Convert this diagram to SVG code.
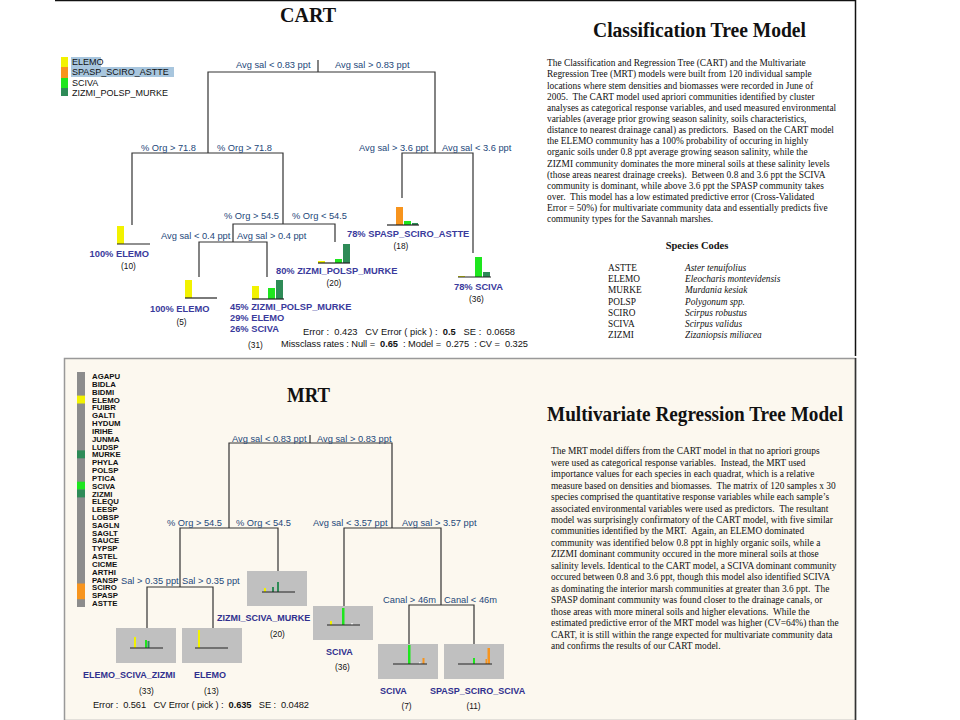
<svg xmlns="http://www.w3.org/2000/svg" width="960" height="720" viewBox="0 0 960 720">
<style>
.split{font-family:"Liberation Sans",Arial,sans-serif;font-size:9.3px;fill:#24487a}
.leaf{font-family:"Liberation Sans",Arial,sans-serif;font-size:9.3px;font-weight:bold;fill:#3a3a9c}
.mleaf{font-family:"Liberation Sans",Arial,sans-serif;font-size:9px;font-weight:bold;fill:#30308e}
.cnt{font-family:"Liberation Sans",Arial,sans-serif;font-size:8.3px;fill:#111;text-anchor:middle}
.stat{font-family:"Liberation Sans",Arial,sans-serif;font-size:9.3px;fill:#111}
.leg{font-family:"Liberation Sans",Arial,sans-serif;font-size:9px;fill:#111}
.mleg{font-family:"Liberation Sans",Arial,sans-serif;font-size:7.8px;font-weight:bold;fill:#111}
.title{font-family:"Liberation Serif","Times New Roman",serif;font-weight:bold;font-size:20px;fill:#111}
.body{font-family:"Liberation Serif","Times New Roman",serif;font-size:9.4px;fill:#111}
.sp{font-family:"Liberation Serif","Times New Roman",serif;font-size:9.3px;fill:#111}
.spi{font-family:"Liberation Serif","Times New Roman",serif;font-size:9.3px;font-style:italic;fill:#111}
.conn{fill:none;stroke:#333;stroke-width:1.2}
.base{stroke:#222;stroke-width:1.2}
.box{fill:#c0c0c0}
.y{fill:#f2f200}.o{fill:#f7941d}.g{fill:#1ee61e}.d{fill:#2e8b57}.gr{fill:#8c8c8c}
</style>
<rect width="960" height="720" fill="#fff"/>
<g id="panels">
<line x1="55" y1="0.5" x2="856" y2="0.5" stroke="#111" stroke-width="1.5"/>
<line x1="855.5" y1="0" x2="855.5" y2="356" stroke="#111" stroke-width="1.5"/>
<rect x="64.5" y="358.5" width="791" height="362" fill="#fcf8ef" stroke="#999" stroke-width="1.5"/>
<line x1="855.5" y1="358" x2="855.5" y2="720" stroke="#333" stroke-width="1.5"/>
</g>

<!-- CART -->
<text class="title" x="280" y="22" textLength="56" lengthAdjust="spacingAndGlyphs">CART</text>
<g id="cart-legend">
<rect x="71" y="57" width="30" height="10" fill="#a8c6de"/>
<rect x="71" y="67" width="103" height="10" fill="#a8c6de"/>
<rect class="y" x="61" y="57" width="7" height="10"/>
<rect class="o" x="61" y="67" width="7" height="11"/>
<rect class="g" x="61" y="78" width="7" height="10"/>
<rect class="d" x="61" y="88" width="7" height="8"/>
<text class="leg" x="72" y="64.5">ELEMO</text>
<text class="leg" x="72" y="75">SPASP_SCIRO_ASTTE</text>
<text class="leg" x="72" y="85.5">SCIVA</text>
<text class="leg" x="72" y="95.5">ZIZMI_POLSP_MURKE</text>
</g>

<g id="cart-connectors">
<path class="conn" d="M318 60V72M208 153V72H435V153M132 225V153H283V224M402 198V153H473V253M233 242V224H335V242M199 277V242H267V277"/>
</g>
<g id="cart-splits">
<text class="split" x="236" y="68">Avg sal &lt; 0.83 ppt</text>
<text class="split" x="335" y="68">Avg sal &gt; 0.83 ppt</text>
<text class="split" x="141" y="151">% Org &gt; 71.8</text>
<text class="split" x="217" y="151">% Org &gt; 71.8</text>
<text class="split" x="359" y="151">Avg sal &gt; 3.6 ppt</text>
<text class="split" x="442" y="151">Avg sal &lt; 3.6 ppt</text>
<text class="split" x="224" y="219">% Org &gt; 54.5</text>
<text class="split" x="292" y="219">% Org &lt; 54.5</text>
<text class="split" x="161" y="239">Avg sal &lt; 0.4 ppt</text>
<text class="split" x="237" y="239">Avg sal &gt; 0.4 ppt</text>
</g>

<g id="cart-leaf-elemo10">
<rect class="y" x="117" y="226" width="7" height="18"/>
<line class="base" x1="117" y1="244" x2="150" y2="244"/>
<text class="leaf" x="149" y="256.5" text-anchor="end">100% ELEMO</text>
<text class="cnt" x="128.5" y="269">(10)</text>
</g>
<g id="cart-leaf-elemo5">
<rect class="y" x="185" y="280" width="7" height="18"/>
<line class="base" x1="185" y1="298" x2="217" y2="298"/>
<text class="leaf" x="150" y="312">100% ELEMO</text>
<text class="cnt" x="181.5" y="325">(5)</text>
</g>
<g id="cart-leaf-31">
<rect class="y" x="252" y="286" width="7" height="13"/>
<rect class="g" x="268" y="288" width="7" height="11"/>
<rect class="d" x="276" y="280" width="7" height="19"/>
<line class="base" x1="252" y1="299" x2="284" y2="299"/>
<text class="leaf" x="230" y="310">45% ZIZMI_POLSP_MURKE</text>
<text class="leaf" x="230" y="321">29% ELEMO</text>
<text class="leaf" x="230" y="332">26% SCIVA</text>
<text class="cnt" x="255.5" y="348">(31)</text>
</g>
<g id="cart-leaf-20">
<rect class="y" x="318" y="261" width="7" height="2"/>
<rect class="g" x="335" y="259" width="7" height="4"/>
<rect class="d" x="343" y="244" width="7" height="19"/>
<line class="base" x1="318" y1="263" x2="350" y2="263"/>
<text class="leaf" x="276" y="274">80% ZIZMI_POLSP_MURKE</text>
<text class="cnt" x="334" y="286">(20)</text>
</g>
<g id="cart-leaf-18">
<rect class="o" x="396" y="207" width="7" height="18"/>
<rect class="g" x="404" y="221" width="7" height="4"/>
<rect class="d" x="412" y="223" width="6" height="2"/>
<line class="base" x1="387" y1="225" x2="419" y2="225"/>
<text class="leaf" x="347" y="237">78% SPASP_SCIRO_ASTTE</text>
<text class="cnt" x="401" y="249">(18)</text>
</g>
<g id="cart-leaf-36">
<rect class="y" x="458" y="276" width="7" height="1"/>
<rect class="g" x="475" y="257" width="7" height="20"/>
<rect class="d" x="483" y="272" width="7" height="5"/>
<line class="base" x1="458" y1="277" x2="491" y2="277"/>
<text class="leaf" x="454" y="290">78% SCIVA</text>
<text class="cnt" x="476.5" y="302">(36)</text>
</g>
<g id="cart-stats">
<text class="stat" x="303" y="334.5" textLength="212" lengthAdjust="spacing" xml:space="preserve">Error :  0.423   CV Error ( pick ) :  <tspan font-weight="bold">0.5</tspan>   SE :  0.0658</text>
<text class="stat" x="281" y="346.5" textLength="247" lengthAdjust="spacing" xml:space="preserve">Missclass rates : Null =  <tspan font-weight="bold">0.65</tspan>  : Model =  0.275  : CV =  0.325</text>
</g>

<!-- CART text panel -->
<text class="title" x="593" y="37" textLength="213" lengthAdjust="spacingAndGlyphs">Classification Tree Model</text>
<g id="cart-body" class="body">
<text x="547" y="66.3">The Classification and Regression Tree (CART) and the Multivariate</text>
<text x="547" y="77.4">Regression Tree (MRT) models were built from 120 individual sample</text>
<text x="547" y="88.6">locations where stem densities and biomasses were recorded in June of</text>
<text x="547" y="99.7" xml:space="preserve">2005.  The CART model used apriori communities identified by cluster</text>
<text x="547" y="110.9">analyses as categorical response variables, and used measured environmental</text>
<text x="547" y="122">variables (average prior growing season salinity, soils characteristics,</text>
<text x="547" y="133.1" xml:space="preserve">distance to nearest drainage canal) as predictors.  Based on the CART model</text>
<text x="547" y="144.3">the ELEMO community has a 100% probability of occuring in highly</text>
<text x="547" y="155.4">organic soils under 0.8 ppt average growing season salinity, while the</text>
<text x="547" y="166.6">ZIZMI community dominates the more mineral soils at these salinity levels</text>
<text x="547" y="177.7" xml:space="preserve">(those areas nearest drainage creeks).  Between 0.8 and 3.6 ppt the SCIVA</text>
<text x="547" y="188.8">community is dominant, while above 3.6 ppt the SPASP community takes</text>
<text x="547" y="200" xml:space="preserve">over.  This model has a low estimated predictive error (Cross-Validated</text>
<text x="547" y="211.1">Error = 50%) for multivariate community data and essentially predicts five</text>
<text x="547" y="222.3">community types for the Savannah marshes.</text>
</g>
<g id="species-codes">
<text x="697" y="248.5" text-anchor="middle" font-family="Liberation Serif, serif" font-weight="bold" font-size="10.5" fill="#111">Species Codes</text>
<text class="sp" x="608" y="271">ASTTE</text><text class="spi" x="685" y="271">Aster tenuifolius</text>
<text class="sp" x="608" y="282.2">ELEMO</text><text class="spi" x="685" y="282.2">Eleocharis montevidensis</text>
<text class="sp" x="608" y="293.4">MURKE</text><text class="spi" x="685" y="293.4">Murdania kesiak</text>
<text class="sp" x="608" y="304.6">POLSP</text><text class="spi" x="685" y="304.6">Polygonum spp.</text>
<text class="sp" x="608" y="315.8">SCIRO</text><text class="spi" x="685" y="315.8">Scirpus robustus</text>
<text class="sp" x="608" y="327">SCIVA</text><text class="spi" x="685" y="327">Scirpus validus</text>
<text class="sp" x="608" y="338.2">ZIZMI</text><text class="spi" x="685" y="338.2">Zizaniopsis miliacea</text>
</g>

<!-- MRT -->
<g id="mrt-legend">
<rect class="gr" x="77" y="372" width="8" height="235"/>
<rect class="y" x="77" y="395.6" width="8" height="7.9"/>
<rect class="d" x="77" y="450.4" width="8" height="7.9"/>
<rect class="g" x="77" y="481.7" width="8" height="7.9"/>
<rect class="d" x="77" y="489.5" width="8" height="7.9"/>
<rect class="o" x="77" y="583.5" width="8" height="15.7"/>
<g class="mleg">
<text x="92" y="379">AGAPU</text>
<text x="92" y="386.8">BIDLA</text>
<text x="92" y="394.7">BIDMI</text>
<text x="92" y="402.5">ELEMO</text>
<text x="92" y="410.3">FUIBR</text>
<text x="92" y="418.2">GALTI</text>
<text x="92" y="426">HYDUM</text>
<text x="92" y="433.8">IRIHE</text>
<text x="92" y="441.6">JUNMA</text>
<text x="92" y="449.5">LUDSP</text>
<text x="92" y="457.3">MURKE</text>
<text x="92" y="465.1">PHYLA</text>
<text x="92" y="473">POLSP</text>
<text x="92" y="480.8">PTICA</text>
<text x="92" y="488.6">SCIVA</text>
<text x="92" y="496.5">ZIZMI</text>
<text x="92" y="504.3">ELEQU</text>
<text x="92" y="512.1">LEESP</text>
<text x="92" y="520">LOBSP</text>
<text x="92" y="527.8">SAGLN</text>
<text x="92" y="535.6">SAGLT</text>
<text x="92" y="543.4">SAUCE</text>
<text x="92" y="551.3">TYPSP</text>
<text x="92" y="559.1">ASTEL</text>
<text x="92" y="566.9">CICME</text>
<text x="92" y="574.8">ARTHI</text>
<text x="92" y="582.6">PANSP</text>
<text x="92" y="590.4">SCIRO</text>
<text x="92" y="598.3">SPASP</text>
<text x="92" y="606.1">ASTTE</text>
</g>
</g>
<text class="title" x="287" y="402" textLength="43" lengthAdjust="spacingAndGlyphs">MRT</text>

<g id="mrt-connectors">
<path class="conn" d="M310 435V443M229 528V443H392V528M180 587V528H278V571M344 606V528H441V605M147 628V587H213V628M409 644V605H474V644"/>
</g>
<g id="mrt-splits">
<text class="split" x="232" y="442">Avg sal &lt; 0.83 ppt</text>
<text class="split" x="317" y="442">Avg sal &gt; 0.83 ppt</text>
<text class="split" x="167" y="526">% Org &gt; 54.5</text>
<text class="split" x="236" y="526">% Org &lt; 54.5</text>
<text class="split" x="313" y="526">Avg sal &lt; 3.57 ppt</text>
<text class="split" x="402" y="526">Avg sal &gt; 3.57 ppt</text>
<text class="split" x="121" y="584">Sal &gt; 0.35 ppt</text>
<text class="split" x="182" y="584">Sal &gt; 0.35 ppt</text>
<text class="split" x="383" y="603">Canal &gt; 46m</text>
<text class="split" x="444" y="603">Canal &lt; 46m</text>
</g>

<g id="mrt-leaf-33">
<rect class="box" x="116" y="628" width="60" height="35"/>
<rect class="y" x="134" y="637" width="2" height="11"/>
<rect class="g" x="145" y="640" width="2" height="8"/>
<rect class="d" x="147.5" y="641" width="2" height="7"/>
<line class="base" x1="130" y1="648" x2="163" y2="648"/>
<text class="mleaf" x="83" y="678">ELEMO_SCIVA_ZIZMI</text>
<text class="cnt" x="146.5" y="694">(33)</text>
</g>
<g id="mrt-leaf-13">
<rect class="box" x="182" y="628" width="60" height="35"/>
<rect class="y" x="198" y="630" width="2" height="18"/>
<line class="base" x1="195" y1="648" x2="228" y2="648"/>
<text class="mleaf" x="194" y="678">ELEMO</text>
<text class="cnt" x="211.5" y="694">(13)</text>
</g>
<g id="mrt-leaf-20">
<rect class="box" x="247" y="571" width="60" height="35"/>
<rect class="y" x="264" y="588" width="2" height="4"/>
<rect class="d" x="272" y="587" width="2" height="5"/>
<rect class="d" x="277" y="582" width="2" height="10"/>
<line class="base" x1="262" y1="592" x2="295" y2="592"/>
<text class="mleaf" x="217" y="621">ZIZMI_SCIVA_MURKE</text>
<text class="cnt" x="277.5" y="637">(20)</text>
</g>
<g id="mrt-leaf-36">
<rect class="box" x="313" y="606" width="60" height="34"/>
<rect class="y" x="330" y="621" width="2" height="4"/>
<rect class="g" x="342" y="608" width="2.5" height="17"/>
<rect x="351" y="623" width="2" height="2" fill="#eee"/>
<line class="base" x1="327" y1="625" x2="360" y2="625"/>
<text class="mleaf" x="326" y="655">SCIVA</text>
<text class="cnt" x="342.5" y="670">(36)</text>
</g>
<g id="mrt-leaf-7">
<rect class="box" x="378" y="644" width="60" height="35"/>
<rect class="g" x="408" y="645" width="2.5" height="19"/>
<rect class="o" x="422.5" y="658" width="2" height="6"/>
<rect x="419" y="662" width="1.5" height="2" fill="#eee"/>
<line class="base" x1="393" y1="664" x2="427" y2="664"/>
<text class="mleaf" x="380" y="694">SCIVA</text>
<text class="cnt" x="406.5" y="709">(7)</text>
</g>
<g id="mrt-leaf-11">
<rect class="box" x="444" y="644" width="60" height="35"/>
<rect class="g" x="473" y="658" width="2" height="6"/>
<rect class="o" x="485.5" y="659" width="1.5" height="5"/>
<rect class="o" x="487.5" y="648" width="2.5" height="16"/>
<line class="base" x1="458" y1="664" x2="492" y2="664"/>
<text class="mleaf" x="430" y="694">SPASP_SCIRO_SCIVA</text>
<text class="cnt" x="473.5" y="709">(11)</text>
</g>
<g id="mrt-stats">
<text class="stat" x="93" y="707.5" textLength="216" lengthAdjust="spacing" xml:space="preserve">Error :  0.561   CV Error ( pick ) :  <tspan font-weight="bold">0.635</tspan>   SE :  0.0482</text>
</g>

<!-- MRT text panel -->
<text class="title" x="547" y="421" textLength="296" lengthAdjust="spacingAndGlyphs">Multivariate Regression Tree Model</text>
<g id="mrt-body" class="body">
<text x="551" y="454.3">The MRT model differs from the CART model in that no apriori groups</text>
<text x="551" y="465.7" xml:space="preserve">were used as categorical response variables.  Instead, the MRT used</text>
<text x="551" y="477.2">importance values for each species in each quadrat, which is a relative</text>
<text x="551" y="488.6" xml:space="preserve">measure based on densities and biomasses.  The matrix of 120 samples x 30</text>
<text x="551" y="500.1">species comprised the quantitative response variables while each sample’s</text>
<text x="551" y="511.5" xml:space="preserve">associated environmental variables were used as predictors.  The resultant</text>
<text x="551" y="523">model was surprisingly confirmatory of the CART model, with five similar</text>
<text x="551" y="534.4" xml:space="preserve">communities identified by the MRT.  Again, an ELEMO dominated</text>
<text x="551" y="545.9">community was identified below 0.8 ppt in highly organic soils, while a</text>
<text x="551" y="557.3">ZIZMI dominant community occured in the more mineral soils at those</text>
<text x="551" y="568.8">salinity levels. Identical to the CART model, a SCIVA dominant community</text>
<text x="551" y="580.2">occured between 0.8 and 3.6 ppt, though this model also identified SCIVA</text>
<text x="551" y="591.7" xml:space="preserve">as dominating the interior marsh communities at greater than 3.6 ppt.  The</text>
<text x="551" y="603.1">SPASP dominant community was found closer to the drainage canals, or</text>
<text x="551" y="614.6" xml:space="preserve">those areas with more mineral soils and higher elevations.  While the</text>
<text x="551" y="626">estimated predictive error of the MRT model was higher (CV=64%) than the</text>
<text x="551" y="637.5">CART, it is still within the range expected for multivariate community data</text>
<text x="551" y="648.9">and confirms the results of our CART model.</text>
</g>
</svg>
